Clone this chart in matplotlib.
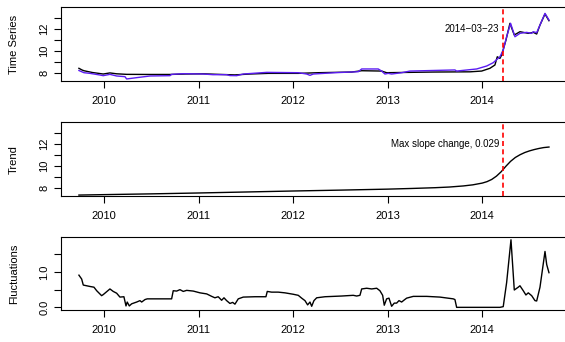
import matplotlib
matplotlib.use("Agg")
import matplotlib.pyplot as plt

plt.rcParams['font.family'] = ['Liberation Sans', 'DejaVu Sans']

# Observed series (decimal year, value)
obs_t = [2009.732, 2009.764, 2009.785, 2009.873, 2009.989, 2010.060, 2010.131, 2010.237,
         2010.484, 2010.695, 2010.854, 2011.048, 2011.171, 2011.383, 2011.542, 2011.735,
         2012.053, 2012.265, 2012.618, 2012.724, 2012.935, 2012.988, 2013.147, 2013.481,
         2013.870, 2013.994, 2014.081, 2014.134, 2014.159, 2014.187, 2014.205, 2014.251,
         2014.293, 2014.339, 2014.399, 2014.487, 2014.540, 2014.576, 2014.611, 2014.664,
         2014.706]
obs_v = [8.40, 8.25, 8.18, 8.02, 7.88, 7.98, 7.90, 7.85,
         7.84, 7.84, 7.88, 7.90, 7.86, 7.80, 7.88, 7.94,
         7.94, 8.00, 8.06, 8.18, 8.15, 8.00, 8.02, 8.06,
         8.08, 8.15, 8.40, 8.70, 9.45, 9.30, 9.60, 10.97,
         12.49, 11.43, 11.73, 11.58, 11.67, 11.52, 12.34, 13.34,
         12.73]

# Fitted series
fit_t = [2009.732, 2009.785, 2009.849, 2009.955, 2009.989, 2010.060, 2010.131, 2010.219,
         2010.237, 2010.343, 2010.484, 2010.695, 2010.713, 2010.836, 2011.048, 2011.150,
         2011.295, 2011.330, 2011.401, 2011.471, 2011.719, 2012.053, 2012.142, 2012.177,
         2012.212, 2012.441, 2012.688, 2012.724, 2012.899, 2012.935, 2012.970, 2013.005,
         2013.041, 2013.147, 2013.235, 2013.711, 2013.729, 2013.941, 2014.047, 2014.116,
         2014.187, 2014.222, 2014.258, 2014.300, 2014.346, 2014.399, 2014.469, 2014.523,
         2014.540, 2014.576, 2014.611, 2014.664, 2014.706]
fit_v = [8.20, 8.00, 7.94, 7.79, 7.73, 7.85, 7.70, 7.64,
         7.43, 7.55, 7.70, 7.73, 7.85, 7.91, 7.88, 7.82,
         7.82, 7.74, 7.73, 7.88, 8.03, 8.00, 7.88, 7.76,
         7.88, 8.00, 8.09, 8.34, 8.34, 8.15, 7.88, 7.94,
         7.88, 8.00, 8.15, 8.25, 8.15, 8.34, 8.61, 8.91,
         9.45, 10.06, 11.27, 12.49, 11.27, 11.58, 11.67, 11.58,
         11.73, 11.64, 12.34, 13.40, 12.79]

# Trend component
trend_t = [2009.732, 2010.0, 2010.5, 2011.0, 2011.5, 2012.0, 2012.5, 2013.0,
           2013.25, 2013.5, 2013.65, 2013.8, 2013.9, 2014.0, 2014.05, 2014.1,
           2014.15, 2014.2, 2014.25, 2014.3, 2014.35, 2014.4, 2014.45, 2014.5,
           2014.55, 2014.6, 2014.65, 2014.706]
trend_v = [7.33, 7.37, 7.44, 7.52, 7.61, 7.70, 7.78, 7.87,
           7.93, 8.00, 8.06, 8.16, 8.26, 8.42, 8.55, 8.75,
           9.05, 9.45, 9.95, 10.40, 10.75, 11.00, 11.20, 11.35,
           11.47, 11.57, 11.65, 11.70]

# Fluctuation component
fluc_t = [2009.732, 2009.761, 2009.778, 2009.849, 2009.891, 2009.920, 2009.972, 2009.989,
          2010.060, 2010.095, 2010.131, 2010.166, 2010.208, 2010.230, 2010.243, 2010.265,
          2010.290, 2010.343, 2010.378, 2010.396, 2010.431, 2010.455, 2010.713, 2010.730,
          2010.766, 2010.801, 2010.836, 2010.872, 2010.942, 2011.013, 2011.084, 2011.137,
          2011.171, 2011.206, 2011.242, 2011.267, 2011.295, 2011.330, 2011.359, 2011.383,
          2011.418, 2011.471, 2011.595, 2011.711, 2011.725, 2011.771, 2011.841, 2011.912,
          2012.000, 2012.053, 2012.089, 2012.124, 2012.152, 2012.177, 2012.195, 2012.219,
          2012.248, 2012.336, 2012.512, 2012.635, 2012.671, 2012.706, 2012.724, 2012.777,
          2012.830, 2012.883, 2012.917, 2012.946, 2012.963, 2012.988, 2013.013, 2013.041,
          2013.069, 2013.094, 2013.119, 2013.147, 2013.175, 2013.200, 2013.270, 2013.412,
          2013.552, 2013.693, 2013.711, 2013.729, 2014.187, 2014.222, 2014.258, 2014.304,
          2014.339, 2014.381, 2014.399, 2014.434, 2014.462, 2014.487, 2014.523, 2014.558,
          2014.576, 2014.611, 2014.664, 2014.682, 2014.706]
fluc_v = [0.91, 0.80, 0.63, 0.59, 0.57, 0.47, 0.33, 0.36,
          0.52, 0.45, 0.40, 0.29, 0.30, 0.04, 0.15, 0.04,
          0.10, 0.15, 0.19, 0.15, 0.22, 0.24, 0.24, 0.47,
          0.46, 0.50, 0.45, 0.48, 0.46, 0.41, 0.38, 0.31,
          0.27, 0.30, 0.20, 0.27, 0.19, 0.11, 0.14, 0.09,
          0.24, 0.29, 0.30, 0.30, 0.45, 0.43, 0.43, 0.41,
          0.37, 0.34, 0.26, 0.19, 0.07, 0.15, 0.03, 0.19,
          0.27, 0.30, 0.32, 0.34, 0.32, 0.34, 0.52, 0.54,
          0.52, 0.54, 0.47, 0.34, 0.06, 0.24, 0.26, 0.03,
          0.12, 0.12, 0.19, 0.15, 0.21, 0.26, 0.31, 0.31,
          0.29, 0.24, 0.22, 0.00, 0.00, 0.02, 0.70, 1.91,
          0.49, 0.57, 0.61, 0.47, 0.35, 0.41, 0.33, 0.19,
          0.18, 0.57, 1.58, 1.21, 0.98]

change_t = 2014.222          # 2014-03-23
change_label = "2014\u221203\u221223"
slope_label = "Max slope change, 0.029"
year_ticks = [2010, 2011, 2012, 2013, 2014]

W, H = 565, 342
fig = plt.figure(figsize=(W / 100, H / 100), dpi=100)

LEFT, RIGHT = 60.5, 569.0

def panel(top, bottom):
    return fig.add_axes([LEFT / W, 1 - bottom / H, (RIGHT - LEFT) / W, (bottom - top) / H])

ax1 = panel(7.3, 81.0)
ax2 = panel(122.3, 196.0)
ax3 = panel(237.3, 310.0)

purple = '#5B1CF2'
ax1.plot(obs_t, obs_v, color='black', lw=1.0)
ax1.plot(fit_t, fit_v, color=purple, lw=1.0)
ax2.plot(trend_t, trend_v, color='black', lw=1.0)
ax3.plot(fluc_t, fluc_v, color='black', lw=1.0)

for ax in (ax1, ax2):
    ax.axvline(change_t, color='red', lw=1.2, ls=(0, (3, 2)))
    ax.set_ylim(7.245, 13.95)
    ax.set_yticks([8, 9, 10, 11, 12, 13])
    ax.set_yticklabels(['8', '', '10', '', '12', ''])

ax1.annotate(change_label, xy=(change_t, 12), xytext=(-3, 0), textcoords='offset points',
             ha='right', va='center', fontsize=7)
ax2.annotate(slope_label, xy=(change_t, 12), xytext=(-3, 0), textcoords='offset points',
             ha='right', va='center', fontsize=7)

ax3.set_ylim(-0.075, 1.98)
ax3.set_yticks([0.0, 0.5, 1.0, 1.5])
ax3.set_yticklabels(['0.0', '', '1.0', ''])

for ax, lab in ((ax1, 'Time Series'), (ax2, 'Trend'), (ax3, 'Fluctuations')):
    ax.set_xlim(2009.537, 2014.918)
    ax.set_xticks(year_ticks)
    ax.set_xticklabels([str(y) for y in year_ticks])
    ax.tick_params(axis='both', direction='out', length=5, width=0.8, labelsize=8,
                   colors='black')
    ax.tick_params(axis='x', pad=6)
    ax.tick_params(axis='y', pad=3, labelrotation=90)
    for lbl in ax.get_yticklabels():
        lbl.set_verticalalignment('center')
    for s in ax.spines.values():
        s.set_linewidth(0.8)
    ax.set_ylabel(lab, fontsize=8)
    ax.yaxis.set_label_coords(-(LEFT - 19) / (RIGHT - LEFT), 0.5)

fig.savefig('out.png', dpi=100)
